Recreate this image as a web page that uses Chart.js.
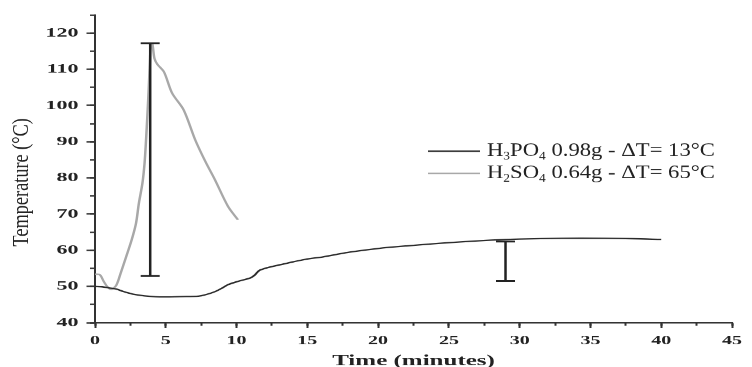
<!DOCTYPE html>
<html>
<head>
<meta charset="utf-8">
<script src="https://cdn.jsdelivr.net/npm/chart.js@4.4.0/dist/chart.umd.min.js"></script>
<style>
  html, body { margin: 0; padding: 0; background: #fff; }
  #plot { display: block; }
</style>
</head>
<body>
<!-- drawn taller than shown, then squeezed to 367px like the printed figure -->
<canvas id="plot" width="752" height="612" style="width:752px;height:367px"></canvas>
<script>
// H3PO4 0.98 g run
const h3po4Time = [0, 0.5, 1, 1.5, 2, 2.65, 3.5, 4.3, 5, 6, 7.3, 7.8, 8.5, 9, 9.4, 10.1, 11, 11.3, 11.6, 12.2, 13.1, 14, 15, 16, 17, 18, 20, 22, 25, 28, 30, 33, 36, 38, 40];
const h3po4Temp = [50.0, 49.9, 49.6, 49.3, 48.6, 47.9, 47.4, 47.15, 47.1, 47.2, 47.3, 47.7, 48.6, 49.6, 50.5, 51.4, 52.4, 53.2, 54.4, 55.2, 56.0, 56.8, 57.6, 58.1, 58.8, 59.5, 60.5, 61.2, 62.1, 62.8, 63.1, 63.3, 63.3, 63.2, 63.0];

// H2SO4 0.64 g run
const h2so4Time = [0, 0.35, 0.6, 0.9, 1.16, 1.5, 1.8, 2.2, 2.6, 2.9, 3.1, 3.35, 3.5, 3.6, 3.71, 3.8, 3.88, 3.95, 4.05, 4.2, 4.4, 4.87, 5.45, 6.26, 7.08, 7.8, 8.47, 9.4, 10.1];
const h2so4Temp = [53.4, 53.2, 51.5, 49.8, 49.2, 50.3, 53.5, 58.2, 63.0, 67.5, 73.0, 78.5, 84.0, 90.0, 97.9, 105.0, 112.0, 116.8, 117.0, 113.0, 111.4, 109.3, 103.4, 98.8, 90.5, 84.5, 79.5, 72.1, 68.4];

// temperature rise bars
const barTime = [3.9, 29];
const barLow = [52.9, 51.5];
const barHigh = [117.2, 62.4];

const seriesLabels = ['H₃PO₄ 0.98g - ΔT= 13°C', 'H₂SO₄ 0.64g - ΔT= 65°C'];
const yTitle = 'Temperature (°C)';

const xTicks = [0, 5, 10, 15, 20, 25, 30, 35, 40, 45];
const xMinorTicks = [0, 2.5, 5, 7.5, 10, 12.5, 15, 17.5, 20, 22.5, 25, 27.5, 30, 32.5, 35, 37.5, 40, 42.5, 45];
const yTicks = [40, 50, 60, 70, 80, 90, 100, 110, 120];
const yMinorTicks = [40, 45, 50, 55, 60, 65, 70, 75, 80, 85, 90, 95, 100, 105, 110, 115, 120, 125];

const SERIF = '"Liberation Serif", "Times New Roman", serif';
const INK = '#222';

const pts = (xs, ys) => xs.map((x, i) => ({ x: x, y: ys[i] }));

const deltaBars = {
  id: 'deltaBars',
  afterDatasetsDraw(chart) {
    const { ctx, scales: { x, y } } = chart;
    ctx.save();
    ctx.strokeStyle = INK;
    barTime.forEach((t, i) => {
      const px = x.getPixelForValue(t);
      const top = y.getPixelForValue(barHigh[i]);
      const bot = y.getPixelForValue(barLow[i]);
      ctx.lineWidth = 2.5;
      ctx.beginPath();
      ctx.moveTo(px, top);
      ctx.lineTo(px, bot);
      ctx.stroke();
      ctx.lineWidth = 3;
      ctx.beginPath();
      ctx.moveTo(px - 9.5, top);
      ctx.lineTo(px + 9.5, top);
      ctx.moveTo(px - 9.5, bot);
      ctx.lineTo(px + 9.5, bot);
      ctx.stroke();
    });
    ctx.restore();
  }
};

// rotated y caption, stretched along its length
const sideCaption = {
  id: 'sideCaption',
  afterDraw(chart) {
    const ctx = chart.ctx;
    ctx.save();
    ctx.translate(22, 304);
    ctx.rotate(-Math.PI / 2);
    ctx.scale(1.27, 1);
    ctx.font = `24px ${SERIF}`;
    ctx.fillStyle = INK;
    ctx.textAlign = 'center';
    ctx.textBaseline = 'middle';
    ctx.fillText(yTitle, 0, 0);
    ctx.restore();
  }
};

// legend with real subscripts
const seriesKey = {
  id: 'seriesKey',
  afterDraw(chart) {
    const ctx = chart.ctx;
    const size = 22;
    chart.data.datasets.forEach((ds, i) => {
      const y = 252 + i * 37;
      ctx.save();
      ctx.strokeStyle = ds.borderColor;
      ctx.lineWidth = ds.borderWidth;
      ctx.beginPath();
      ctx.moveTo(428, y);
      ctx.lineTo(480, y);
      ctx.stroke();
      ctx.translate(487, y);
      ctx.scale(1.03, 1.4);
      ctx.fillStyle = INK;
      ctx.textBaseline = 'middle';
      let cx = 0;
      for (const ch of ds.label) {
        const code = ch.codePointAt(0);
        if (code >= 0x2080 && code <= 0x2089) {
          ctx.font = `${Math.round(size * 0.6)}px ${SERIF}`;
          const d = String(code - 0x2080);
          ctx.fillText(d, cx, size * 0.3);
          cx += ctx.measureText(d).width;
        } else {
          ctx.font = `${size}px ${SERIF}`;
          ctx.fillText(ch, cx, 0);
          cx += ctx.measureText(ch).width;
        }
      }
      ctx.restore();
    });
  }
};

new Chart(document.getElementById('plot'), {
  type: 'line',
  data: {
    datasets: [
      {
        label: seriesLabels[0],
        data: pts(h3po4Time, h3po4Temp),
        borderColor: '#2a2a2a',
        borderWidth: 2.3,
        pointRadius: 0,
        tension: 0.3
      },
      {
        label: seriesLabels[1],
        data: pts(h2so4Time, h2so4Temp),
        borderColor: '#a8a8a8',
        borderWidth: 2.5,
        pointRadius: 0,
        tension: 0.3
      }
    ]
  },
  options: {
    responsive: false,
    animation: false,
    devicePixelRatio: 1,
    layout: { padding: { top: 25, right: 10, left: 0, bottom: 0 } },
    plugins: {
      legend: { display: false },
      tooltip: { enabled: false }
    },
    scales: {
      x: {
        type: 'linear',
        position: 'bottom',
        weight: 1,
        min: 0,
        max: 45,
        afterBuildTicks: s => { s.ticks = xTicks.map(v => ({ value: v })); },
        afterFit: s => { s.height = 74; },
        border: { color: '#333', width: 2.5 },
        grid: { drawOnChartArea: false, tickLength: 9, tickColor: '#333', tickWidth: 2 },
        ticks: {
          color: INK,
          padding: 10,
          maxRotation: 0,
          autoSkip: false,
          font: { family: SERIF, size: 20, weight: 'bold' }
        },
        title: {
          display: true,
          text: 'Time (minutes)',
          color: INK,
          padding: { top: 0, bottom: -6 },
          font: { family: SERIF, size: 25, weight: 'bold' }
        }
      },
      xMinor: {
        type: 'linear',
        position: 'bottom',
        weight: 0,
        min: 0,
        max: 45,
        afterBuildTicks: s => { s.ticks = xMinorTicks.map(v => ({ value: v })); },
        afterFit: s => { s.height = 0; },
        border: { display: false },
        grid: { drawOnChartArea: false, tickLength: 5, tickColor: '#333', tickWidth: 2 },
        ticks: { display: false }
      },
      y: {
        type: 'linear',
        position: 'left',
        weight: 1,
        min: 40,
        max: 125,
        afterBuildTicks: s => { s.ticks = yTicks.map(v => ({ value: v })); },
        afterFit: s => { s.width = 95; },
        border: { color: '#333', width: 2 },
        grid: { drawOnChartArea: false, tickLength: 8.5, tickColor: '#333', tickWidth: 2.5 },
        ticks: {
          color: INK,
          padding: 8,
          font: { family: SERIF, size: 22, weight: 'bold' }
        }
      },
      yMinor: {
        type: 'linear',
        position: 'left',
        weight: 0,
        min: 40,
        max: 125,
        afterBuildTicks: s => { s.ticks = yMinorTicks.map(v => ({ value: v })); },
        afterFit: s => { s.width = 0; },
        border: { display: false },
        grid: { drawOnChartArea: false, tickLength: 5, tickColor: '#333', tickWidth: 2.5 },
        ticks: { display: false }
      }
    }
  },
  plugins: [deltaBars, sideCaption, seriesKey]
});
</script>
</body>
</html>
